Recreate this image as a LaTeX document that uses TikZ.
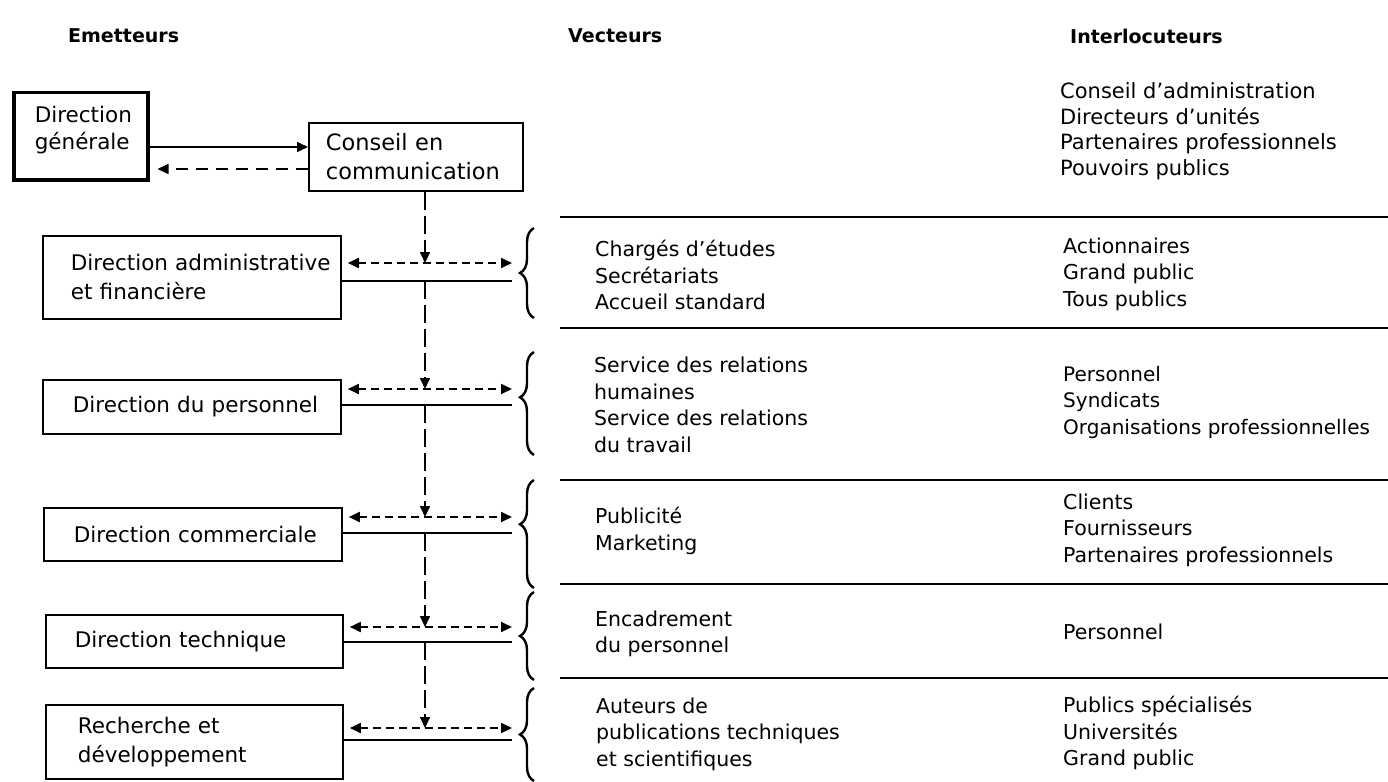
\documentclass[tikz,border=0pt]{standalone}
\usepackage{fontspec}
\setmainfont{DejaVu Sans}
\usetikzlibrary{arrows.meta,decorations.pathreplacing}
\hyphenpenalty=10000
\exhyphenpenalty=10000
\begin{document}
\begin{tikzpicture}[x=1pt,y=-1pt,
  txt/.style={font=\fontsize{20.5}{26.5}\selectfont, align=left, anchor=west, inner sep=0pt},
  hdr/.style={font=\fontsize{19}{23}\selectfont\bfseries, anchor=west, inner sep=0pt},
  dirbox/.style={draw, line width=1.8pt, anchor=north west, align=left, inner ysep=0pt,
     font=\fontsize{21.5}{29}\selectfont},
  tri/.style={-{Triangle[length=11pt,width=10pt]}},
  bitri/.style={{Triangle[length=11pt,width=10pt]}-{Triangle[length=11pt,width=10pt]}},
  solidarrow/.style={line width=1.6pt, tri},
  longdash/.style={line width=1.6pt, dash pattern=on 12pt off 8pt, tri},
  vdash/.style={line width=1.6pt, dash pattern=on 18pt off 6pt, tri},
  hdash/.style={line width=1.8pt, dash pattern=on 8pt off 5pt, bitri},
  hsolid/.style={line width=2.4pt},
  sepline/.style={line width=1.8pt},
  bracestyle/.style={line width=2.4pt, decorate, decoration={brace, amplitude=14pt}}
]
\useasboundingbox (0,0) rectangle (1388,781);

% headers
\node[hdr] (hE) at (68,36) {Emetteurs};
\node[hdr] (hV) at (568,36) {Vecteurs};
\node[hdr] (hI) at (1070,36) {Interlocuteurs};

% boxes
\node[dirbox, line width=3.5pt, font=\fontsize{21.5}{27}\selectfont, minimum width=134pt,
  inner xsep=21pt, text width=92pt, text height=29.5pt, text depth=57.5pt]
  (dg) at (12,91) {\mbox{Direction}\\\mbox{générale}};
\node[dirbox, font=\fontsize{22.5}{29}\selectfont, minimum width=214pt, minimum height=68pt,
  inner xsep=17pt, text width=180pt]
  (cons) at (308,122) {\mbox{Conseil en}\\\mbox{communication}};
\node[dirbox, minimum width=298pt, minimum height=83pt, inner xsep=28pt, text width=242pt]
  (adm) at (42,235) {\mbox{Direction administrative}\\\mbox{et financière}};
\node[dirbox, minimum width=298pt, minimum height=54pt, inner xsep=30pt, text width=238pt]
  (pers) at (42,379) {\mbox{Direction du personnel}};
\node[dirbox, minimum width=298pt, minimum height=53pt, inner xsep=30pt, text width=238pt]
  (com) at (43,507) {\mbox{Direction commerciale}};
\node[dirbox, minimum width=297pt, minimum height=53pt, inner xsep=29pt, text width=239pt]
  (tech) at (45,614) {\mbox{Direction technique}};
\node[dirbox, minimum width=297pt, minimum height=74pt, inner xsep=32pt, text width=233pt]
  (rd) at (45,704) {\mbox{Recherche et}\\\mbox{développement}};

% reference coordinates
\coordinate (ya) at (0,147);
\coordinate (yb) at (0,169);
\coordinate (vx) at (425,0);
\coordinate (ex) at (512,0);
\coordinate (d1) at (0,263); \coordinate (s1) at (0,281);
\coordinate (d2) at (0,389); \coordinate (s2) at (0,405);
\coordinate (d3) at (0,517); \coordinate (s3) at (0,533);
\coordinate (d4) at (0,627); \coordinate (s4) at (0,642);
\coordinate (d5) at (0,728); \coordinate (s5) at (0,740);

% top connectors
\draw[solidarrow] (dg.east |- ya) -- (cons.west |- ya);
\draw[longdash, shorten >=8pt] (cons.west |- yb) -- (dg.east |- yb);

% vertical dashed line with arrowheads
\draw[vdash] (vx |- cons.south) -- (vx |- d1);
\draw[vdash] (vx |- s1) -- (vx |- d2);
\draw[vdash] (vx |- s2) -- (vx |- d3);
\draw[vdash] (vx |- s3) -- (vx |- d4);
\draw[vdash] (vx |- s4) -- (vx |- d5);

% horizontal arrows and lines
\draw[hdash, shorten <=6pt] (adm.east |- d1) -- (ex |- d1);
\draw[hsolid] (adm.east |- s1) -- (ex |- s1);
\draw[hdash, shorten <=6pt] (pers.east |- d2) -- (ex |- d2);
\draw[hsolid] (pers.east |- s2) -- (ex |- s2);
\draw[hdash, shorten <=6pt] (com.east |- d3) -- (ex |- d3);
\draw[hsolid] (com.east |- s3) -- (ex |- s3);
\draw[hdash, shorten <=6pt] (tech.east |- d4) -- (ex |- d4);
\draw[hsolid] (tech.east |- s4) -- (ex |- s4);
\draw[hdash, shorten <=6pt] (rd.east |- d5) -- (ex |- d5);
\draw[hsolid] (rd.east |- s5) -- (ex |- s5);

% braces
\draw[bracestyle, decoration={aspect=0.5}] (534,318) -- (534,228);
\draw[bracestyle, decoration={aspect=0.56}] (534,455) -- (534,352);
\draw[bracestyle, decoration={aspect=0.59}] (534,588) -- (534,480);
\draw[bracestyle, decoration={aspect=0.5}] (534,680) -- (534,592);
\draw[bracestyle, decoration={aspect=0.5}] (534,781) -- (534,688);

% separators
\draw[sepline] (560,217) -- (1388,217);
\draw[sepline] (560,328) -- (1388,328);
\draw[sepline] (560,480) -- (1388,480);
\draw[sepline] (560,584) -- (1388,584);
\draw[sepline] (560,678) -- (1388,678);

% Vecteurs
\node[txt] (v1) at (595,275) {Chargés d’études\\Secrétariats\\Accueil standard};
\node[txt] (v2) at (594,405) {Service des relations\\humaines\\Service des relations\\du travail};
\node[txt] (v3) at (595,531) {Publicité\\Marketing};
\node[txt] (v4) at (595,634) {Encadrement\\du personnel};
\node[txt] (v5) at (596,734) {Auteurs de\\publications techniques\\et scientifiques};

% Interlocuteurs
\node[txt, font=\fontsize{21}{25.5}\selectfont] (i0) at (1060,131) {Conseil d’administration\\Directeurs d’unités\\Partenaires professionnels\\Pouvoirs publics};
\node[txt] (i1) at (1063,274) {Actionnaires\\Grand public\\Tous publics};
\node[txt, font=\fontsize{20}{26.5}\selectfont] (i2) at (1063,402) {Personnel\\Syndicats\\Organisations professionnelles};
\node[txt] (i3) at (1063,530) {Clients\\Fournisseurs\\Partenaires professionnels};
\node[txt] (i4) at (1063,632) {Personnel};
\node[txt] (i5) at (1063,733) {Publics spécialisés\\Universités\\Grand public};
\end{tikzpicture}
\end{document}
